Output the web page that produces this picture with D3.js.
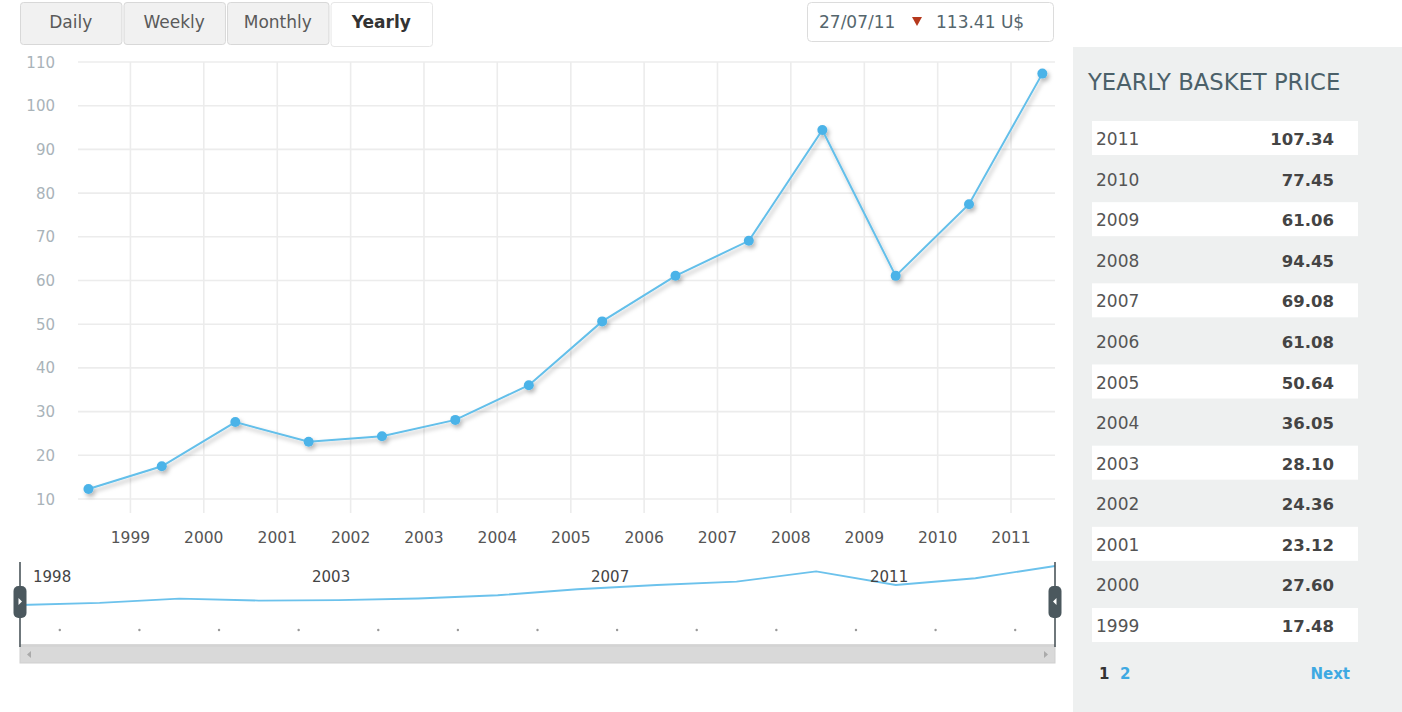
<!DOCTYPE html>
<html><head><meta charset="utf-8">
<script src="https://cdn.jsdelivr.net/npm/d3@7"></script>
<style>body{margin:0;background:#fff;overflow:hidden} svg{display:block;font-family:"DejaVu Sans","Liberation Sans",Arial,sans-serif}</style>
</head><body><svg id="c" width="1402" height="712"></svg>
<script>
// ---- data ----
const years = [1998,1999,2000,2001,2002,2003,2004,2005,2006,2007,2008,2009,2010,2011];
const prices = [12.28,17.48,27.60,23.12,24.36,28.10,36.05,50.64,61.08,69.08,94.45,61.06,77.45,107.34];
const yTicks = [10,20,30,40,50,60,70,80,90,100,110];
const xTickYears = [1999,2000,2001,2002,2003,2004,2005,2006,2007,2008,2009,2010,2011];
const tabs = ["Daily","Weekly","Monthly","Yearly"];
const activeTab = "Yearly";
const navLabels = ["1998","2003","2007","2011"];
const lastDate = "27/07/11";
const lastPrice = "113.41 U$";
const tableTitle = "YEARLY BASKET PRICE";
const tableYears = [2011,2010,2009,2008,2007,2006,2005,2004,2003,2002,2001,2000,1999];
const pages = ["1","2"];
const nextLabel = "Next";

const svg = d3.select("#c");
const defs = svg.append("defs");
const f = defs.append("filter").attr("id","sh").attr("x","-10%").attr("y","-10%").attr("width","130%").attr("height","140%");
f.append("feDropShadow").attr("dx",2).attr("dy",3).attr("stdDeviation",2).attr("flood-color","#000").attr("flood-opacity",0.28);

// ---- scales ----
const x = d3.scaleTime().domain([new Date(1998,3,15), new Date(2011,7,8)]).range([78,1055]);
const y = d3.scaleLinear().domain([10,110]).range([499,62]);
const ptDate = yr => new Date(yr,5,6);
const data = years.map((yr,i)=>({yr, v:prices[i]}));

// ---- tabs ----
const tb = d3.scaleBand().domain(tabs).range([20,432]).paddingInner(0.02);
const tg = svg.append("g");
tabs.forEach(t=>{
  const act = t===activeTab;
  tg.append("rect").attr("x",tb(t)+0.5).attr("y",2.5).attr("width",tb.bandwidth()).attr("height",act?44:42)
    .attr("rx",3).attr("fill",act?"#fff":"#f1f1f1").attr("stroke",act?"#e6e6e6":"#d8d8d8");
  tg.append("text").attr("x",tb(t)+tb.bandwidth()/2).attr("y",28).attr("text-anchor","middle")
    .attr("font-size",17).attr("font-weight",act?"bold":"normal").attr("fill",act?"#333":"#5a5a5a").text(t);
});

// ---- price box ----
const pb = svg.append("g");
pb.append("rect").attr("x",807.5).attr("y",2.5).attr("width",246).attr("height",39).attr("rx",4).attr("fill","#fff").attr("stroke","#dcdcdc");
pb.append("text").attr("x",819).attr("y",28).attr("font-size",17).attr("fill","#55666d").text(lastDate);
pb.append("path").attr("d","M912,17 L922,17 L917,26 Z").attr("fill","#b5381c");
pb.append("text").attr("x",936).attr("y",28).attr("font-size",17).attr("fill","#55666d").text(lastPrice);

// ---- grid ----
const g = svg.append("g");
g.selectAll("line.h").data(yTicks).join("line").attr("class","h")
  .attr("x1",78).attr("x2",1055).attr("y1",d=>y(d)).attr("y2",d=>y(d)).attr("stroke","#ececec").attr("stroke-width",1.6);
g.selectAll("line.v").data(xTickYears).join("line").attr("class","v")
  .attr("x1",d=>x(new Date(d,0,1))).attr("x2",d=>x(new Date(d,0,1))).attr("y1",62).attr("y2",513).attr("stroke","#ececec").attr("stroke-width",1.6);
g.selectAll("text.yl").data(yTicks).join("text").attr("class","yl")
  .attr("x",55).attr("y",d=>y(d)+5.5).attr("text-anchor","end").attr("font-size",15).attr("fill","#a9b3b9").text(d=>d);
g.selectAll("text.xl").data(xTickYears).join("text").attr("class","xl")
  .attr("x",d=>x(new Date(d,0,1))).attr("y",543).attr("text-anchor","middle").attr("font-size",15.5).attr("fill","#555").text(d=>d);

// ---- series ----
const sg = svg.append("g").attr("filter","url(#sh)");
const line = d3.line().x(d=>x(ptDate(d.yr))).y(d=>y(d.v));
sg.append("path").datum(data).attr("d",line).attr("fill","none").attr("stroke","#63bfea").attr("stroke-width",2);
sg.selectAll("circle").data(data).join("circle").attr("cx",d=>x(ptDate(d.yr))).attr("cy",d=>y(d.v)).attr("r",5).attr("fill","#4cb3e8");

// ---- navigator ----
const nx = d3.scalePoint().domain(years).range([20,1055]);
const ny = d3.scaleLinear().domain([d3.min(prices),d3.max(prices)]).range([605,566]);
const ng = svg.append("g");
ng.append("path").datum(data).attr("d",d3.line().x(d=>nx(d.yr)).y(d=>ny(d.v))).attr("fill","none").attr("stroke","#6cc2ec").attr("stroke-width",1.8);
const nl = d3.scalePoint().domain(navLabels).range([33,870]);
ng.selectAll("text").data(navLabels).join("text").attr("x",d=>nl(d)).attr("y",582).attr("font-size",15).attr("fill","#444").text(d=>d);
ng.selectAll("circle").data(years.slice(0,-1)).join("circle").attr("cx",d=>nx(d)+nx.step()/2).attr("cy",630).attr("r",1.2).attr("fill","#999");
ng.append("line").attr("x1",20).attr("x2",1055).attr("y1",645).attr("y2",645).attr("stroke","#b0b0b0");
// scrollbar
ng.append("rect").attr("x",20).attr("y",646).attr("width",1035).attr("height",17).attr("fill","#d9d9d9").attr("stroke","#cfcfcf");
ng.append("path").attr("d","M31,651 L31,658 L27,654.5 Z").attr("fill","#aaa");
ng.append("path").attr("d","M1044,651 L1044,658 L1048,654.5 Z").attr("fill","#aaa");
// handles
[20,1055].forEach((hx,i)=>{
  ng.append("line").attr("x1",hx).attr("x2",hx).attr("y1",562).attr("y2",647).attr("stroke","#4b565b").attr("stroke-width",1.6);
  ng.append("rect").attr("x",hx-6.5).attr("y",586).attr("width",13).attr("height",32).attr("rx",5).attr("fill","#4b585e");
  ng.append("path").attr("d", i===0 ? `M${hx-1.5},598 L${hx-1.5},605 L${hx+2},601.5 Z` : `M${hx+1.5},598 L${hx+1.5},605 L${hx-2},601.5 Z`).attr("fill","#fff");
});

// ---- side table ----
const pg = svg.append("g");
pg.append("rect").attr("x",1073).attr("y",47).attr("width",329).attr("height",665).attr("fill","#eef0f0");
pg.append("text").attr("x",1088).attr("y",90).attr("font-size",22.7).attr("fill","#4b6069").text(tableTitle);
const ry = d3.scalePoint().domain(tableYears).range([139,626]);
const priceOf = yr => prices[years.indexOf(yr)];
tableYears.forEach((yr,i)=>{
  if(i%2===0) pg.append("rect").attr("x",1092).attr("y",ry(yr)-18).attr("width",266).attr("height",34).attr("fill","#fff");
  pg.append("text").attr("x",1096).attr("y",ry(yr)+6).attr("font-size",17).attr("fill","#555").text(yr);
  pg.append("text").attr("x",1334).attr("y",ry(yr)+6).attr("text-anchor","end").attr("font-size",16.5).attr("font-weight","bold").attr("fill","#444").text(priceOf(yr).toFixed(2));
});
pg.append("text").attr("x",1099).attr("y",679).attr("font-size",15).attr("font-weight","bold").attr("fill","#333").text(pages[0]);
pg.append("text").attr("x",1120).attr("y",679).attr("font-size",15).attr("font-weight","bold").attr("fill","#3ea9e2").text(pages[1]);
pg.append("text").attr("x",1350).attr("y",679).attr("text-anchor","end").attr("font-size",15).attr("font-weight","bold").attr("fill","#3ea9e2").text(nextLabel);
</script></body></html>
